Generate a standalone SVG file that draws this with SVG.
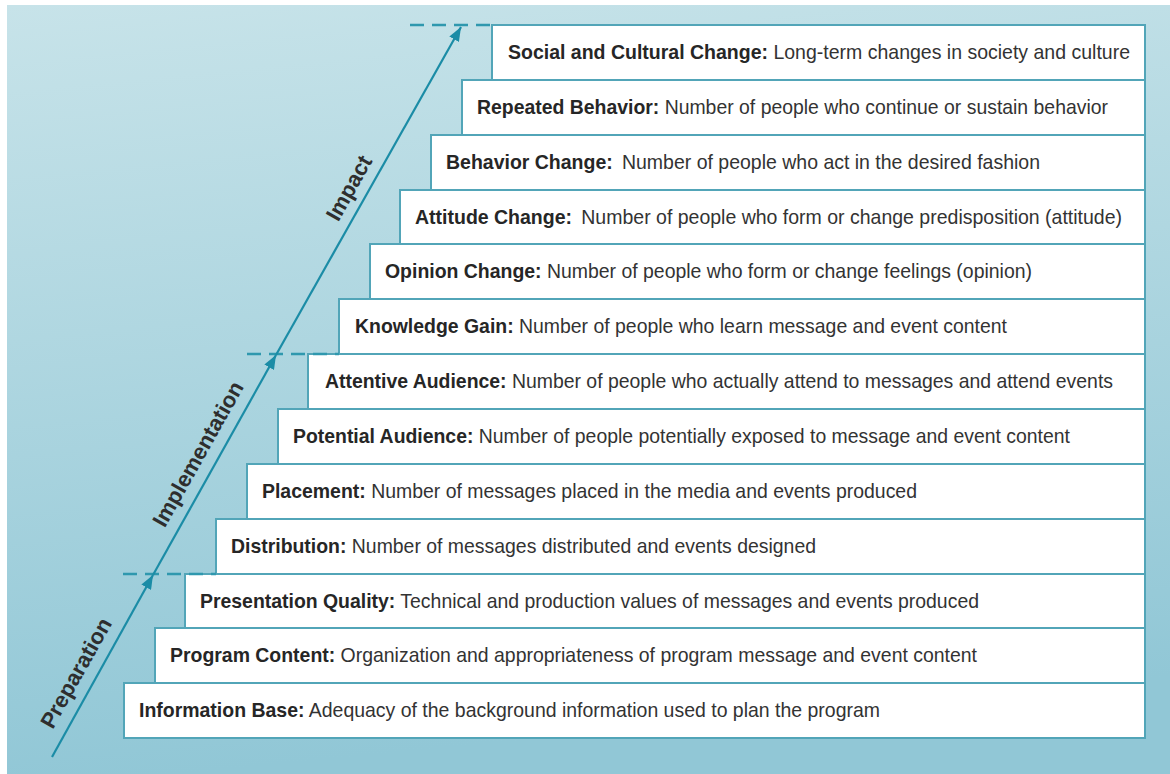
<svg xmlns="http://www.w3.org/2000/svg" width="1170" height="774" viewBox="0 0 1170 774">
  <defs>
    <linearGradient id="bg" x1="0" y1="0" x2="0.15" y2="1">
      <stop offset="0" stop-color="#c7e3e9"/>
      <stop offset="1" stop-color="#91c7d6"/>
    </linearGradient>
    <marker id="ah" markerUnits="userSpaceOnUse" markerWidth="15" markerHeight="11" refX="14" refY="5.5" orient="auto">
      <path d="M0,0 L14,5.5 L0,11 Z" fill="#1b8ca6"/>
    </marker>
    <style>
      .box { fill: #ffffff; stroke: #52a5b8; stroke-width: 2; }
      .t { font-family: "Liberation Sans", Arial, sans-serif; font-size: 21px; fill: #333333; }
      .b { font-weight: bold; fill: #262626; }
      .phase { font-family: "Liberation Sans", Arial, sans-serif; font-size: 22px; font-weight: bold; fill: #2e2e2e; text-anchor: middle; dominant-baseline: central; }
      .arrow { stroke: #1b8ca6; stroke-width: 2.2; fill: none; marker-end: url(#ah); }
      .dash { stroke: #2f98ae; stroke-width: 2.5; stroke-dasharray: 14 8; fill: none; }
    </style>
  </defs>
  <rect x="0" y="0" width="1170" height="774" fill="#ffffff"/>
  <rect x="7" y="5" width="1163" height="769" fill="url(#bg)"/>

  <g id="social"><rect class="box" x="492" y="25" width="653" height="55"/><text class="t" x="508" y="59" textLength="622" lengthAdjust="spacingAndGlyphs"><tspan class="b">Social and Cultural Change:</tspan> Long-term changes in society and culture</text></g>
  <g id="repeated"><rect class="box" x="462" y="80" width="683" height="55"/><text class="t" x="477" y="114" textLength="631" lengthAdjust="spacingAndGlyphs"><tspan class="b">Repeated Behavior:</tspan> Number of people who continue or sustain behavior</text></g>
  <g id="behavior"><rect class="box" x="431" y="135" width="714" height="55"/><text class="t" x="446" y="169" textLength="594" lengthAdjust="spacingAndGlyphs"><tspan class="b">Behavior Change:</tspan><tspan dx="10">Number of people who act in the desired fashion</tspan></text></g>
  <g id="attitude"><rect class="box" x="400" y="190" width="745" height="54"/><text class="t" x="415" y="224" textLength="707" lengthAdjust="spacingAndGlyphs"><tspan class="b">Attitude Change:</tspan><tspan dx="10">Number of people who form or change predisposition (attitude)</tspan></text></g>
  <g id="opinion"><rect class="box" x="370" y="244" width="775" height="55"/><text class="t" x="385" y="278" textLength="647" lengthAdjust="spacingAndGlyphs"><tspan class="b">Opinion Change:</tspan> Number of people who form or change feelings (opinion)</text></g>
  <g id="knowledge"><rect class="box" x="339" y="299" width="806" height="55"/><text class="t" x="355" y="333" textLength="652" lengthAdjust="spacingAndGlyphs"><tspan class="b">Knowledge Gain:</tspan> Number of people who learn message and event content</text></g>
  <g id="attentive"><rect class="box" x="308" y="354" width="837" height="55"/><text class="t" x="325" y="388" textLength="788" lengthAdjust="spacingAndGlyphs"><tspan class="b">Attentive Audience:</tspan> Number of people who actually attend to messages and attend events</text></g>
  <g id="potential"><rect class="box" x="278" y="409" width="867" height="55"/><text class="t" x="293" y="443" textLength="777" lengthAdjust="spacingAndGlyphs"><tspan class="b">Potential Audience:</tspan> Number of people potentially exposed to message and event content</text></g>
  <g id="placement"><rect class="box" x="247" y="464" width="898" height="55"/><text class="t" x="262" y="498" textLength="655" lengthAdjust="spacingAndGlyphs"><tspan class="b">Placement:</tspan> Number of messages placed in the media and events produced</text></g>
  <g id="distribution"><rect class="box" x="216" y="519" width="929" height="55"/><text class="t" x="231" y="553" textLength="585" lengthAdjust="spacingAndGlyphs"><tspan class="b">Distribution:</tspan> Number of messages distributed and events designed</text></g>
  <g id="presentation"><rect class="box" x="185" y="574" width="960" height="54"/><text class="t" x="200" y="608" textLength="779" lengthAdjust="spacingAndGlyphs"><tspan class="b">Presentation Quality:</tspan> Technical and production values of messages and events produced</text></g>
  <g id="program"><rect class="box" x="155" y="628" width="990" height="55"/><text class="t" x="170" y="662" textLength="807" lengthAdjust="spacingAndGlyphs"><tspan class="b">Program Content:</tspan> Organization and appropriateness of program message and event content</text></g>
  <g id="information"><rect class="box" x="124" y="683" width="1021" height="55"/><text class="t" x="139" y="717" textLength="741" lengthAdjust="spacingAndGlyphs"><tspan class="b">Information Base:</tspan> Adequacy of the background information used to plan the program</text></g>

  <g id="connectors">
    <line class="dash" x1="410" y1="25" x2="492" y2="25"/>
    <line class="dash" x1="247" y1="354" x2="339" y2="354"/>
    <line class="dash" x1="123" y1="574" x2="216" y2="574"/>
    <line class="arrow" x1="52" y1="757" x2="153" y2="575"/>
    <line class="arrow" x1="153" y1="575" x2="276" y2="355"/>
    <line class="arrow" x1="276" y1="355" x2="461" y2="27"/>
  </g>

  <g id="phase-preparation"><text class="phase" transform="translate(76,673) rotate(-60.7)">Preparation</text></g>
  <g id="phase-implementation"><text class="phase" transform="translate(198,454) rotate(-60.7)">Implementation</text></g>
  <g id="phase-impact"><text class="phase" transform="translate(349,188) rotate(-60.7)">Impact</text></g>
</svg>
